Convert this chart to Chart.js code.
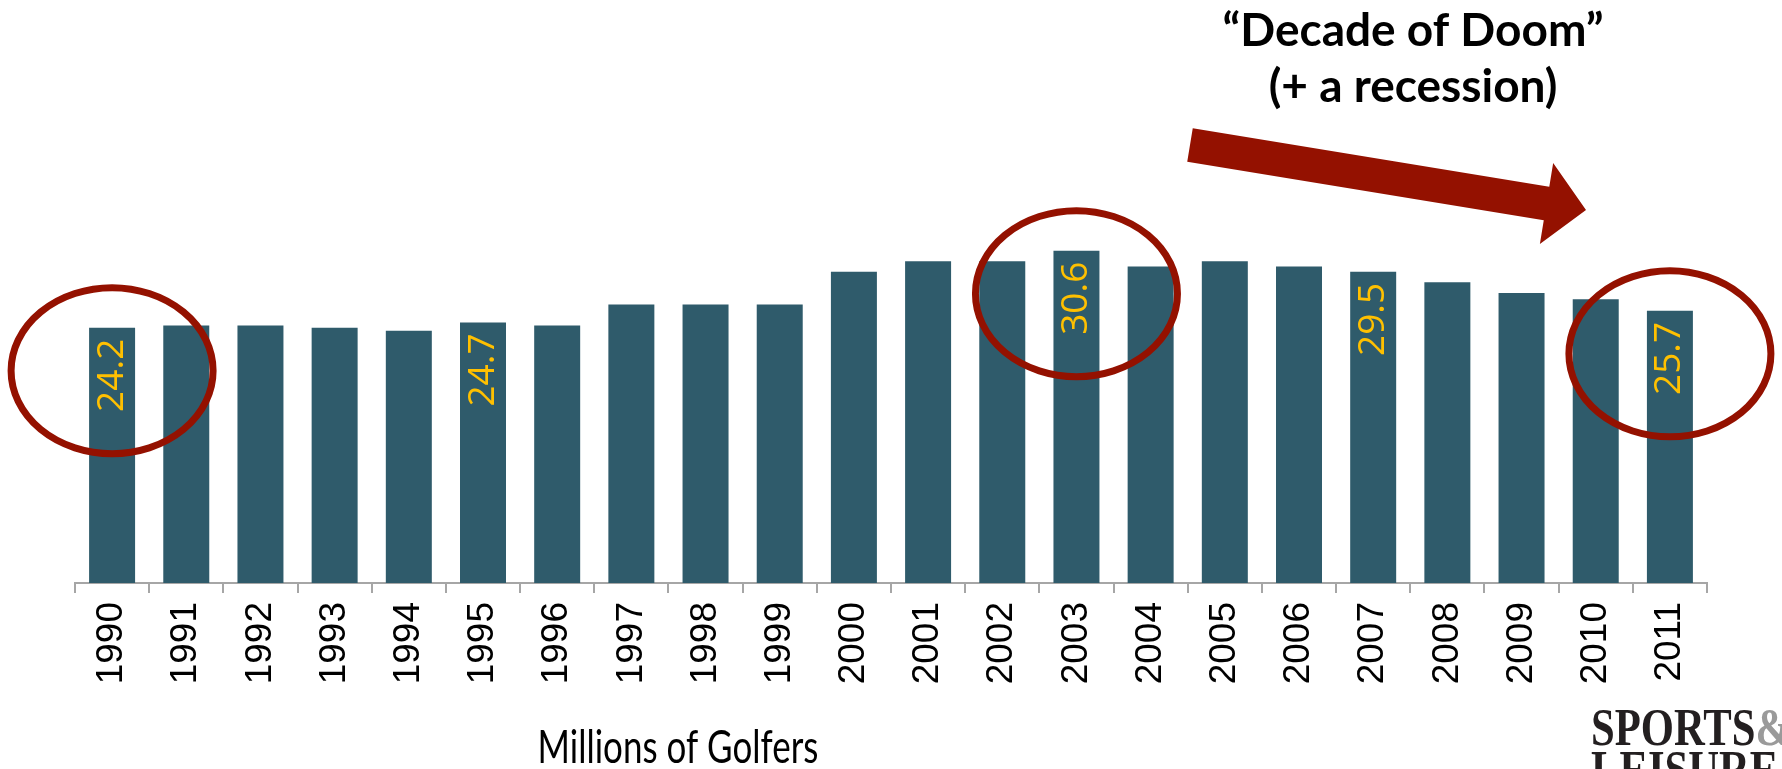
<!DOCTYPE html>
<html lang="en">
<head>
<meta charset="UTF-8">
<title>Millions of Golfers</title>
<script src="https://cdn.jsdelivr.net/npm/chart.js"></script>
<style>
    html, body {
        margin: 0;
        padding: 0;
        background: #ffffff;
    }
    .wrap {
        position: relative;
        width: 1782px;
        height: 769px;
    }
</style>
</head>
<body>
<div class="wrap">
    <canvas id="golfChart" width="1782" height="769"></canvas>
</div>

<script>
// Data
const years = ['1990', '1991', '1992', '1993', '1994', '1995', '1996', '1997', '1998', '1999', '2000',
               '2001', '2002', '2003', '2004', '2005', '2006', '2007', '2008', '2009', '2010', '2011'];
const golfers = [24.2, 24.4, 24.4, 24.2, 23.9, 24.7, 24.4, 26.4, 26.4, 26.4, 29.5,
                 30.5, 30.5, 31.5, 30.0, 30.5, 30.0, 29.5, 28.5, 27.5, 26.9, 25.8];
// the figures printed inside some bars
const shownLabels = ['24.2', '', '', '', '', '24.7', '', '', '', '', '',
                     '', '', '30.6', '', '', '', '29.5', '', '', '', '25.7'];
// bars that got a red ring
const circled = ['1990', '2003', '2011'];

const barColor = '#2f5b6b';
const darkRed = '#941100';

// yellow numbers inside the bars
const barLabels = {
    id: 'barLabels',
    afterDatasetsDraw(chart) {
        const ctx = chart.ctx;
        const bars = chart.getDatasetMeta(0).data;
        ctx.save();
        ctx.fillStyle = '#ffc000';
        ctx.font = '37px "Open Sans"';
        ctx.textAlign = 'right';
        ctx.textBaseline = 'middle';
        bars.forEach((bar, i) => {
            if (!shownLabels[i]) return;
            ctx.save();
            ctx.translate(bar.x, bar.y + 11);
            ctx.rotate(-Math.PI / 2);
            ctx.fillText(shownLabels[i], 0, 0);
            ctx.restore();
        });
        ctx.restore();
    }
};

// rings, arrow and the other slide text
const annotations = {
    id: 'annotations',
    afterDraw(chart) {
        const ctx = chart.ctx;
        const x = chart.scales.x;
        const y = chart.scales.y;
        ctx.save();

        // ellipses round the picked bars
        ctx.strokeStyle = darkRed;
        ctx.lineWidth = 7;
        circled.forEach(yr => {
            const i = years.indexOf(yr);
            const cx = x.getPixelForValue(i);
            const cy = y.getPixelForValue(golfers[i]) + 43;
            ctx.beginPath();
            ctx.ellipse(cx, cy, 101, 83, 0, 0, Math.PI * 2);
            ctx.stroke();
        });

        // the big arrow
        const tail = { x: 1190, y: 145 };
        const tip = { x: 1586, y: 210 };
        const ang = Math.atan2(tip.y - tail.y, tip.x - tail.x);
        const len = Math.hypot(tip.x - tail.x, tip.y - tail.y);
        const shaft = 34, head = 82, headLen = 40;
        ctx.save();
        ctx.translate(tail.x, tail.y);
        ctx.rotate(ang);
        ctx.fillStyle = darkRed;
        ctx.beginPath();
        ctx.moveTo(0, -shaft / 2);
        ctx.lineTo(len - headLen, -shaft / 2);
        ctx.lineTo(len - headLen, -head / 2);
        ctx.lineTo(len, 0);
        ctx.lineTo(len - headLen, head / 2);
        ctx.lineTo(len - headLen, shaft / 2);
        ctx.lineTo(0, shaft / 2);
        ctx.closePath();
        ctx.fill();
        ctx.restore();

        // heading
        ctx.fillStyle = '#000000';
        ctx.textAlign = 'center';
        ctx.textBaseline = 'alphabetic';
        ctx.font = 'bold 46px Lato';
        ctx.fillText('\u201cDecade of Doom\u201d', 1413, 46);
        ctx.fillText('(+ a recession)', 1413, 102);

        // caption under the axis
        ctx.save();
        ctx.translate(678, 763);
        ctx.scale(0.76, 1);
        ctx.font = '46px Lato';
        ctx.fillText('Millions of Golfers', 0, 0);
        ctx.restore();

        // logo, cut off at the bottom edge
        ctx.textAlign = 'left';
        ctx.save();
        ctx.translate(1591, 745);
        ctx.scale(0.82, 1);
        ctx.font = 'bold 52px "Liberation Serif"';
        ctx.fillStyle = '#231f20';
        ctx.fillText('SPORTS', 0, 0);
        const w = ctx.measureText('SPORTS').width;
        ctx.fillStyle = '#9a9a9a';
        ctx.fillText('&', w, 0);
        ctx.fillStyle = '#231f20';
        ctx.fillText('LEISURE', 0, 42);
        ctx.restore();

        ctx.restore();
    }
};

const ctx = document.getElementById('golfChart').getContext('2d');
new Chart(ctx, {
    type: 'bar',
    data: {
        labels: years,
        datasets: [{
            label: 'Millions of Golfers',
            data: golfers,
            backgroundColor: barColor,
            borderWidth: 0,
            categoryPercentage: 1.0,
            barPercentage: 0.62
        }]
    },
    options: {
        responsive: false,
        animation: false,
        layout: {
            padding: { left: 75, right: 75, top: 161, bottom: 0 }
        },
        plugins: {
            legend: { display: false },
            tooltip: { enabled: false }
        },
        scales: {
            x: {
                afterFit(scale) { scale.height = 186; },
                border: { display: true, color: '#a6a6a6', width: 2 },
                grid: {
                    offset: true,
                    drawOnChartArea: false,
                    drawTicks: true,
                    tickLength: 10,
                    color: '#a6a6a6',
                    lineWidth: 2
                },
                ticks: {
                    minRotation: 90,
                    maxRotation: 90,
                    padding: 9,
                    color: '#000000',
                    font: { family: '"Liberation Sans"', size: 37 }
                }
            },
            y: {
                display: false,
                min: 0,
                max: 40
            }
        }
    },
    plugins: [barLabels, annotations]
});
</script>
</body>
</html>
